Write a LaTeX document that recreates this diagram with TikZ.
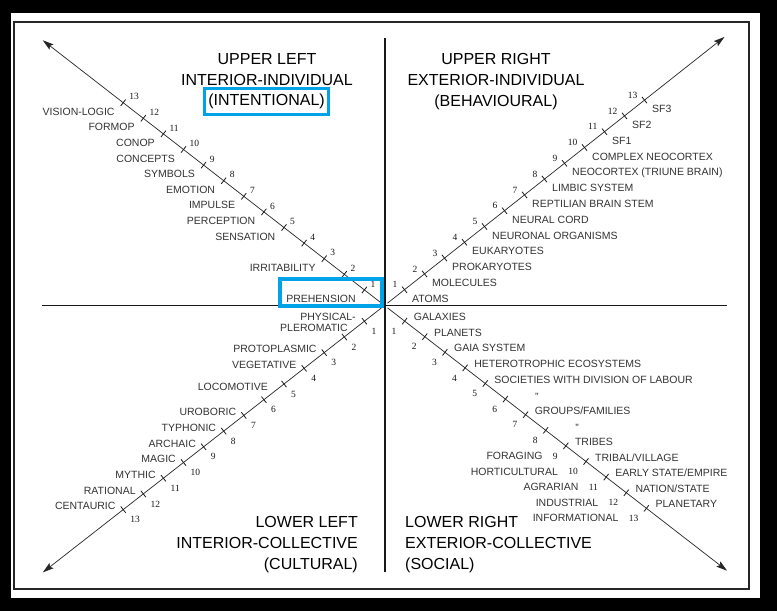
\documentclass[tikz,border=0pt]{standalone}
\usepackage{fontspec}
\setmainfont{Liberation Sans}
\newfontfamily\numfont{Liberation Serif}
\usetikzlibrary{positioning,arrows.meta,calc,fit}
\definecolor{hilite}{RGB}{0,162,232}
\tikzset{
  axisline/.style  = {line width=1.4pt, black!90},
  arm/.style       = {line width=0.7pt, black!85, -{Stealth[length=11pt, width=6.5pt, inset=2pt]}},
  tickmark/.style  = {line width=0.8pt, black!90},
  lab/.style       = {font=\fontsize{10.5}{12}\selectfont, text=black!80, inner sep=0pt},
  num/.style       = {font=\numfont\fontsize{9.5}{10}\selectfont, text=black!90, inner sep=0pt},
  quadtitle/.style = {font=\fontsize{16}{21}\selectfont, inner sep=0pt},
  hl/.style        = {draw=hilite, line width=3.6pt},
}

\begin{document}
\begin{tikzpicture}[x=1pt, y=-1pt]

  \useasboundingbox (0,0) rectangle (777,611);
  \fill[black] (0,0) rectangle (777,611);
  \fill[white] (11,13) rectangle (760,598);
  \draw[black!85, line width=2.2pt] (14,22) rectangle (749,589);

  \coordinate (o)   at (384.5,305.5);
  \coordinate (top) at (385,38);
  \coordinate (bot) at (385,572);
  \coordinate (lft) at (42,305.5);
  \coordinate (rgt) at (727,305.5);
  \draw[axisline] (top) -- (bot);
  \draw[axisline] (lft) -- (rgt);

  % four arms, ticks and step numbers
  \foreach \q/\dx/\dy/\na/\nx/\ny in {ul/-20.1/-15.6/west/6/-6, ur/20/-15.8/east/-7/-5,
                                     ll/-20.1/15.7/west/7/10, lr/20.15/15.6/east/-8/10}{
    \coordinate (\q-0)   at ($(o)+0.15*(\dx,\dy)$);
    \coordinate (\q-tip) at ($(o)+17*(\dx,\dy)$);
    \draw[arm] (\q-0) -- (\q-tip);
    \foreach \i in {1,...,13}{
      \coordinate (\q\i) at ($(o)+\i*(\dx,\dy)$);
      \draw[tickmark] ($(\q\i)!4pt!90:(\q-tip)$) -- ($(\q\i)!4pt!-90:(\q-tip)$);
      \node[num, anchor=\na] (n\q\i) at ($(\q\i)+(\nx,\ny)$) {\i};
    }
  }

  % upper left
  \foreach \i/\t in {1/PREHENSION, 3/IRRITABILITY, 5/SENSATION, 6/PERCEPTION, 7/IMPULSE,
                     8/EMOTION, 9/SYMBOLS, 10/CONCEPTS, 11/CONOP, 12/FORMOP, 13/VISION-LOGIC}
    \node[lab, anchor=east] (lul\i) at ($(ul\i)+(-8.5,9)$) {\t};

  % upper right
  \foreach \i/\t in {1/ATOMS, 2/MOLECULES, 3/PROKARYOTES, 4/EUKARYOTES, 5/NEURONAL ORGANISMS,
                     6/NEURAL CORD, 7/REPTILIAN BRAIN STEM, 8/LIMBIC SYSTEM,
                     9/{NEOCORTEX (TRIUNE BRAIN)}, 10/COMPLEX NEOCORTEX, 11/SF1, 12/SF2, 13/SF3}
    \node[lab, anchor=west] (lur\i) at ($(ur\i)+(7.5,9)$) {\t};

  % lower left
  \foreach \i/\t in {3/PROTOPLASMIC, 4/VEGETATIVE, 7/UROBORIC, 8/TYPHONIC, 9/ARCHAIC,
                     10/MAGIC, 11/MYTHIC, 12/RATIONAL, 13/CENTAURIC}
    \node[lab, anchor=east] (lll\i) at ($(ll\i)+(-7.5,-3.3)$) {\t};
  \node[lab, anchor=east] (lll1)  at ($(ll1)+(-8.5,-4.2)$) {PHYSICAL-};
  \node[lab, anchor=east] (lll1b) at ($(ll1)+(-16.5,6.8)$) {PLEROMATIC};
  \node[lab, anchor=east] (lll5)  at ($(ll5)+(-16,3)$)     {LOCOMOTIVE};

  % lower right
  \foreach \i/\t in {1/GALAXIES, 2/PLANETS, 3/GAIA SYSTEM, 4/HETEROTROPHIC ECOSYSTEMS,
                     5/SOCIETIES WITH DIVISION OF LABOUR, 7/{GROUPS/FAMILIES}, 9/TRIBES,
                     10/{TRIBAL/VILLAGE}, 11/{EARLY STATE/EMPIRE}, 12/{NATION/STATE}, 13/PLANETARY}
    \node[lab, anchor=west] (llr\i) at ($(lr\i)+(9,-4)$) {\t};
  \node[lab] (ditto6) at ($(lr6)+(31.5,-2.2)$) {"};
  \node[lab] (ditto8) at ($(lr8)+(31.5,-2.2)$) {"};
  \foreach \i/\t in {9/FORAGING, 10/HORTICULTURAL, 11/AGRARIAN, 12/INDUSTRIAL, 13/INFORMATIONAL}
    \node[lab, left=10pt of nlr\i] {\t};

  % quadrant titles
  \node[quadtitle, align=center] (ultitle) at (267,69.5) {UPPER LEFT\\INTERIOR-INDIVIDUAL};
  \node[quadtitle] (intent) at (266.5,101.5) {(INTENTIONAL)};
  \node[quadtitle, align=center] (urtitle) at (496,81.2) {UPPER RIGHT\\EXTERIOR-INDIVIDUAL\\(BEHAVIOURAL)};
  \node[quadtitle, align=right, anchor=east] (lltitle) at (358,545) {LOWER LEFT\\INTERIOR-COLLECTIVE\\(CULTURAL)};
  \node[quadtitle, align=left, anchor=west] (lrtitle) at (405,545) {LOWER RIGHT\\EXTERIOR-COLLECTIVE\\(SOCIAL)};

  \node[hl, fit=(intent), inner xsep=3.5pt, inner ysep=5.5pt] {};
  \draw[hl] (279.8,278.8) rectangle (382.2,306.2);

\end{tikzpicture}
\end{document}
